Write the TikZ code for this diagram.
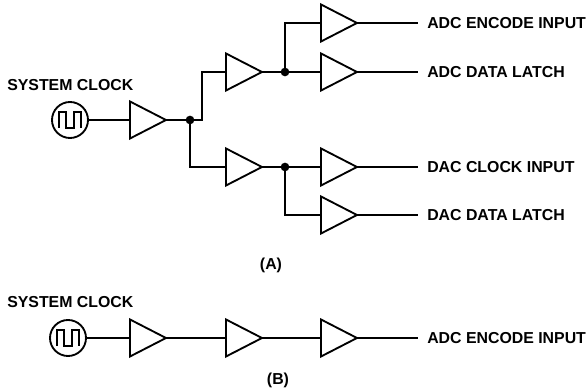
\documentclass[tikz,border=0pt]{standalone}
\usepackage{fontspec}
\setmainfont{Liberation Sans}
\usetikzlibrary{shapes.geometric}
\begin{document}
\begin{tikzpicture}[
            x=0.75pt, y=-0.75pt,
            wire/.style={line width=1.4pt},
            buffer/.style={
                isosceles triangle,
                isosceles triangle stretches,
                shape border rotate=0,
                draw=black,
                line width=1.4pt,
                minimum width=27.75pt,
                minimum height=27pt,
                inner sep=0pt,
                outer sep=0pt,
                anchor=west
            },
            clock/.style={
                circle,
                draw=black,
                line width=1.4pt,
                minimum size=27pt,
                inner sep=0pt,
                outer sep=0pt
            },
            dot/.style={circle, fill=black, minimum size=6.5pt, inner sep=0pt},
            signal/.style={
                anchor=west,
                inner sep=0pt,
                inner xsep=6.75pt,
                font=\bfseries\fontsize{11.9}{14}\selectfont
            },
            figtag/.style={inner sep=0pt, font=\bfseries\fontsize{11.9}{14}\selectfont}
        ]
        \useasboundingbox (0,0) rectangle (587,391);

        % (A) clock source
        \node[signal, inner xsep=0pt] (sysA) at (7,85) {SYSTEM CLOCK};
        \node[clock] (clkA) at (70,120) {};
        \draw[line width=1.2pt, shift={(clkA.center)}] (-11,8) -- (-11,-8) -- (-4,-8) -- (-4,8) -- (4,8) -- (4,-8) -- (11,-8) -- (11,8);

        % (A) buffers
        \node[buffer] (bA1) at (130,120) {};
        \node[buffer] (bA2) at (226,72) {};
        \node[buffer] (bA3) at (226,167) {};
        \node[buffer] (bA4) at (321,23) {};
        \node[buffer] (bA5) at (321,72) {};
        \node[buffer] (bA6) at (321,167) {};
        \node[buffer] (bA7) at (321,215) {};

        % (A) junctions
        \node[dot] (jA1) at (190,120) {};
        \coordinate (kA) at (202,120);
        \node[dot] (jA2) at (285,72) {};
        \node[dot] (jA3) at (285,167) {};

        % (A) outputs
        \node[signal] (tA4) at (418,23) {ADC ENCODE INPUT};
        \node[signal] (tA5) at (418,72) {ADC DATA LATCH};
        \node[signal] (tA6) at (418,167) {DAC CLOCK INPUT};
        \node[signal] (tA7) at (418,215) {DAC DATA LATCH};

        % (A) wiring
        \draw[wire] (clkA) -- (bA1.west);
        \draw[wire] (bA1.east) -- (kA) |- (bA2.west);
        \draw[wire] (jA1.center) |- (bA3.west);
        \draw[wire] (bA2.east) -- (bA5.west);
        \draw[wire] (jA2.center) |- (bA4.west);
        \draw[wire] (bA3.east) -- (bA6.west);
        \draw[wire] (jA3.center) |- (bA7.west);
        \draw[wire] (bA4.east) -- (tA4.west);
        \draw[wire] (bA5.east) -- (tA5.west);
        \draw[wire] (bA6.east) -- (tA6.west);
        \draw[wire] (bA7.east) -- (tA7.west);

        \node[figtag] (capA) at (271,265) {(A)};

        % (B) chain of three buffers
        \node[signal, inner xsep=0pt] (sysB) at (7,302) {SYSTEM CLOCK};
        \node[clock] (clkB) at (68,338) {};
        \draw[line width=1.2pt, shift={(clkB.center)}] (-11,8) -- (-11,-8) -- (-4,-8) -- (-4,8) -- (4,8) -- (4,-8) -- (11,-8) -- (11,8);

        \node[buffer] (bB1) at (130,338) {};
        \node[buffer] (bB2) at (226,338) {};
        \node[buffer] (bB3) at (321,338) {};
        \node[signal] (tB) at (418,338) {ADC ENCODE INPUT};

        \draw[wire] (clkB) -- (bB1.west);
        \draw[wire] (bB1.east) -- (bB2.west);
        \draw[wire] (bB2.east) -- (bB3.west);
        \draw[wire] (bB3.east) -- (tB.west);

        \node[figtag] (capB) at (278,380) {(B)};

        \end{tikzpicture}
\end{document}
